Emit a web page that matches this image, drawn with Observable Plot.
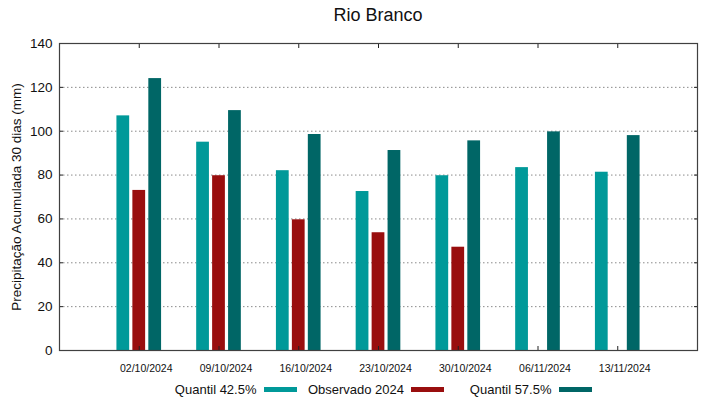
<!DOCTYPE html>
<html>
<head>
<meta charset="utf-8">
<script src="https://cdn.jsdelivr.net/npm/d3@7"></script>
<script src="https://cdn.jsdelivr.net/npm/@observablehq/plot@0.6"></script>
<style>
  html, body { margin: 0; padding: 0; background: #fff; }
  body { width: 719px; height: 399px; overflow: hidden; font-family: "Liberation Sans", Arial, sans-serif; color: #111; }
  #title { box-sizing: border-box; width: 719px; height: 30px; line-height: 30px; padding-left: 59px; padding-right: 22px; text-align: center; font-size: 18px; }
  #legend { position: relative; width: 719px; height: 20px; display: flex; align-items: center; padding-left: 149px; box-sizing: border-box; font-size: 13px; }
  .item { display: flex; align-items: center; width: 147.5px; }
  .item .lab { width: 107.5px; text-align: right; white-space: nowrap; }
  .item .sw { width: 33px; height: 5px; margin-left: 7px; }
  svg { display: block; }
</style>
</head>
<body>
<div id="title">Rio Branco</div>
<div id="chart"></div>
<div id="legend"></div>
<script>
const dates = ["02/10/2024", "09/10/2024", "16/10/2024", "23/10/2024", "30/10/2024", "06/11/2024", "13/11/2024"];
const quantil425 = [107, 95, 82, 72.5, 79.7, 83.4, 81.3];
const observado2024 = [73, 79.7, 59.6, 53.7, 47.1, null, null];
const quantil575 = [124, 109.4, 98.5, 91.2, 95.6, 99.7, 98];
const seriesNames = ["Quantil 42.5%", "Observado 2024", "Quantil 57.5%"];
const seriesColors = ["#009999", "#990e0e", "#006666"];
const yTicks = [0, 20, 40, 60, 80, 100, 120, 140];

const seriesValues = [quantil425, observado2024, quantil575];
const offsets = [-0.2, 0, 0.2];
const hw = 0.08;
const rows = (k) => dates.map((d, i) => ({i, v: seriesValues[k][i]})).filter(r => r.v != null);

const barMark = (k) => Plot.rectY(rows(k), {
  x1: r => r.i + offsets[k] - hw,
  x2: r => r.i + offsets[k] + hw,
  y1: 0,
  y2: "v",
  fill: seriesColors[k]
});

const idx = d3.range(dates.length);

const chart = Plot.plot({
  width: 719,
  height: 349,
  marginLeft: 59,
  marginRight: 22,
  marginTop: 13,
  marginBottom: 29,
  style: {fontFamily: '"Liberation Sans", Arial, sans-serif', color: "#111", background: "#fff"},
  x: {type: "linear", domain: [-1, 7], axis: null},
  y: {domain: [0, 140], axis: null},
  marks: [
    Plot.gridY({ticks: yTicks.slice(1, -1), stroke: "#8a8a8a", strokeOpacity: 1, strokeDasharray: "1.5,2.5"}),
    barMark(0),
    barMark(1),
    barMark(2),
    Plot.axisY({ticks: yTicks, tickSize: 0, tickPadding: 7, fontSize: 13.5,
      label: "Precipitação Acumulada 30 dias (mm)", labelAnchor: "center", labelOffset: 48, labelArrow: "none"}),
    Plot.axisY({anchor: "left", ticks: yTicks, tickSize: -4, tickFormat: () => "", stroke: "#222", label: null}),
    Plot.axisY({anchor: "right", ticks: yTicks, tickSize: -4, tickFormat: () => "", stroke: "#222", label: null}),
    Plot.axisX({ticks: idx, tickSize: 0, tickPadding: 14, dx: 7, fontSize: 10.5, tickFormat: i => dates[i], label: null}),
    Plot.axisX({anchor: "bottom", ticks: idx, tickSize: -4, tickFormat: () => "", stroke: "#222", label: null}),
    Plot.axisX({anchor: "top", ticks: idx, tickSize: -4, tickFormat: () => "", stroke: "#222", label: null}),
    Plot.frame({stroke: "#404040", strokeWidth: 1.2})
  ]
});
document.getElementById("chart").append(chart);

const legend = document.getElementById("legend");
seriesNames.forEach((name, k) => {
  const item = document.createElement("div");
  item.className = "item";
  const lab = document.createElement("span");
  lab.className = "lab";
  lab.textContent = name;
  const sw = document.createElement("span");
  sw.className = "sw";
  sw.style.background = seriesColors[k];
  item.append(lab, sw);
  legend.append(item);
});
</script>
</body>
</html>
